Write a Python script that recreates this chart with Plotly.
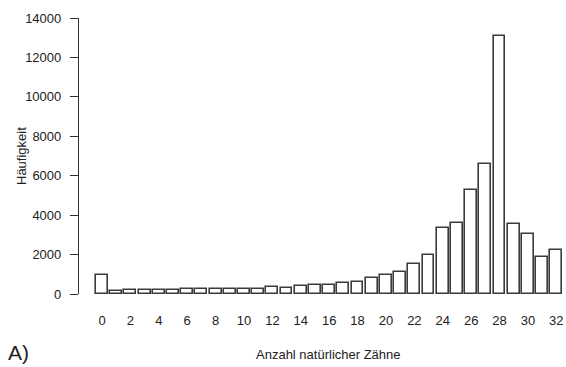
import plotly.graph_objects as go

# Number of natural teeth and how often each count occurs
teeth = list(range(0, 33))
frequency = [980, 130, 220, 220, 220, 200, 270, 230, 250, 250,
             260, 250, 350, 300, 400, 450, 460, 540, 620, 790,
             980, 1130, 1540, 1990, 3350, 3620, 5260, 6580, 13100, 3570,
             3060, 1880, 2210]

x_ticks = list(range(0, 33, 2))
y_ticks = [0, 2000, 4000, 6000, 8000, 10000, 12000, 14000]

font_family = "Liberation Sans, Arial, sans-serif"
text_color = "#222222"

fig = go.Figure()
fig.add_trace(go.Bar(
    x=teeth,
    y=frequency,
    width=0.833,
    marker=dict(color="white", line=dict(color="#3a3a3a", width=1.6)),
    hoverinfo="x+y",
))

fig.update_layout(
    width=566,
    height=367,
    margin=dict(l=79, r=0, t=18, b=73),
    paper_bgcolor="white",
    plot_bgcolor="white",
    showlegend=False,
    font=dict(family=font_family, size=13, color=text_color),
    bargap=0,
    xaxis=dict(
        range=[-1.62, 32.68],
        tickmode="array",
        tickvals=x_ticks,
        ticktext=[str(v) for v in x_ticks],
        ticks="outside",
        ticklen=14,
        tickcolor="rgba(0,0,0,0)",
        showline=False,
        showgrid=False,
        zeroline=False,
        tickfont=dict(size=13, color=text_color),
        fixedrange=True,
    ),
    yaxis=dict(
        range=[0, 14000],
        tickmode="array",
        tickvals=y_ticks,
        ticktext=[str(v) for v in y_ticks],
        ticks="outside",
        ticklen=8,
        tickwidth=1.2,
        tickcolor="#333333",
        showline=True,
        linecolor="#333333",
        linewidth=1.2,
        showgrid=False,
        zeroline=False,
        ticklabelstandoff=6,
        tickfont=dict(size=13, color=text_color),
        fixedrange=True,
    ),
    annotations=[
        dict(text="Anzahl natürlicher Zähne", xref="paper", yref="paper",
             x=(328 - 79) / 487, y=-(354 - 294) / 276, xanchor="center",
             yanchor="middle", showarrow=False,
             font=dict(size=13, color=text_color)),
        dict(text="Häufigkeit", xref="paper", yref="paper",
             x=-(79 - 21) / 487, y=0.5, xanchor="center", yanchor="middle",
             textangle=-90, showarrow=False,
             font=dict(size=13, color=text_color)),
        dict(text="A)", xref="paper", yref="paper",
             x=-(79 - 6) / 487, y=-(352 - 294) / 276, xanchor="left",
             yanchor="middle", showarrow=False,
             font=dict(size=21, color=text_color)),
    ],
)

fig.write_html("out.html")
